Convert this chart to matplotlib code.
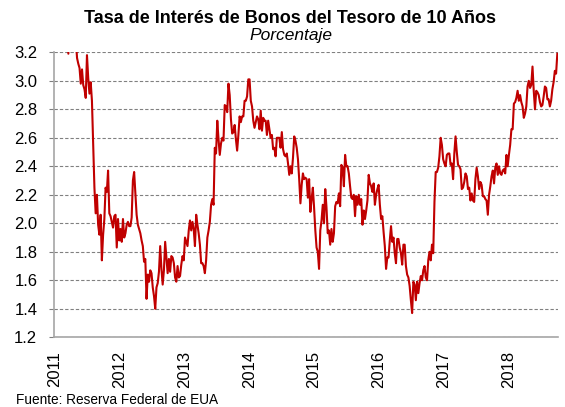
import matplotlib
matplotlib.use("Agg")
import matplotlib.pyplot as plt
import matplotlib.dates as mdates
import pandas as pd
import numpy as np

plt.rcParams['font.family'] = ['Liberation Sans', 'DejaVu Sans']

# Weekly (Friday) 10-year Treasury yield, %
y2011 = [3.34, 3.32, 3.40, 3.33,
         3.64, 3.63, 3.58, 3.42,
         3.49, 3.40, 3.19, 3.44,
         3.45, 3.57, 3.41, 3.36, 3.29,
         3.16, 3.12, 3.09, 2.98,
         3.08, 2.97, 2.94, 2.88,
         3.18, 3.02, 2.91, 2.99, 2.86,
         2.56, 2.25, 2.07, 2.20,
         1.99, 1.92, 2.06, 1.74, 1.92,
         2.03, 2.25, 2.22, 2.37,
         2.07, 2.05, 2.01, 1.97,
         2.05, 2.06, 1.83, 2.03, 1.88]
y2012 = [1.96, 1.87, 2.03, 1.90,
         1.93, 1.99, 2.01, 1.98,
         1.98, 2.04, 2.30, 2.36, 2.21,
         2.06, 1.99, 1.96, 1.93,
         1.88, 1.84, 1.73, 1.75,
         1.47, 1.64, 1.59, 1.67, 1.65,
         1.55, 1.49, 1.40, 1.55,
         1.58, 1.66, 1.84, 1.68, 1.57,
         1.67, 1.87, 1.76, 1.65,
         1.75, 1.66, 1.77, 1.76,
         1.72, 1.62, 1.59, 1.70, 1.62,
         1.63, 1.71, 1.77, 1.74]
y2013 = [1.90, 1.87, 1.84, 1.95,
         2.02, 1.95, 2.01, 1.96,
         1.84, 2.06, 1.99, 1.93, 1.85,
         1.72, 1.72, 1.70, 1.65,
         1.74, 1.90, 1.95, 2.01, 2.13,
         2.17, 2.13, 2.53, 2.49,
         2.72, 2.59, 2.48, 2.56,
         2.60, 2.58, 2.83, 2.82, 2.78,
         2.98, 2.90, 2.73, 2.63,
         2.64, 2.69, 2.59, 2.51,
         2.62, 2.75, 2.71, 2.75, 2.75,
         2.86, 2.86, 2.89, 3.01]
y2014 = [3.01, 2.86, 2.82, 2.72, 2.67,
         2.71, 2.75, 2.73, 2.66,
         2.79, 2.65, 2.74, 2.72,
         2.72, 2.62, 2.72, 2.66,
         2.60, 2.62, 2.52, 2.53, 2.47,
         2.60, 2.60, 2.60, 2.53,
         2.64, 2.52, 2.48, 2.47,
         2.49, 2.42, 2.34, 2.40, 2.35,
         2.46, 2.61, 2.58, 2.53,
         2.45, 2.31, 2.14, 2.27, 2.35,
         2.31, 2.32, 2.31, 2.18,
         2.31, 2.08, 2.17, 2.25]
y2015 = [2.11, 1.95, 1.83, 1.80, 1.68,
         1.95, 2.02, 2.13, 2.00,
         2.24, 2.11, 1.93, 1.95,
         1.85, 1.96, 1.87, 1.93,
         2.12, 2.15, 2.14, 2.21, 2.12,
         2.41, 2.39, 2.26, 2.48,
         2.40, 2.40, 2.35, 2.26, 2.18,
         2.17, 2.20, 2.05, 2.19,
         2.13, 2.20, 2.13, 2.17,
         1.99, 2.09, 2.03, 2.09, 2.16,
         2.34, 2.28, 2.26, 2.22,
         2.28, 2.13, 2.20, 2.24]
y2016 = [2.27, 2.13, 2.03, 2.05, 1.94,
         1.84, 1.68, 1.76, 1.76,
         1.88, 1.98, 1.87, 1.90,
         1.79, 1.72, 1.89, 1.89, 1.83,
         1.79, 1.71, 1.85, 1.85,
         1.70, 1.64, 1.62, 1.56,
         1.46, 1.37, 1.59, 1.57, 1.46,
         1.59, 1.51, 1.58, 1.63,
         1.60, 1.67, 1.70, 1.62, 1.60,
         1.74, 1.80, 1.74, 1.85,
         1.79, 2.15, 2.36, 2.36,
         2.39, 2.47, 2.60, 2.55, 2.45]
y2017 = [2.42, 2.40, 2.48, 2.49,
         2.49, 2.41, 2.42, 2.31,
         2.49, 2.61, 2.50, 2.41, 2.40,
         2.38, 2.24, 2.25, 2.29,
         2.35, 2.33, 2.24, 2.25,
         2.16, 2.21, 2.16, 2.15, 2.31,
         2.39, 2.33, 2.24, 2.29,
         2.27, 2.19, 2.19, 2.17,
         2.16, 2.06, 2.20, 2.26, 2.33,
         2.37, 2.28, 2.39, 2.42,
         2.34, 2.40, 2.35, 2.34,
         2.37, 2.38, 2.35, 2.48, 2.40]
y2018 = [2.48, 2.55, 2.66, 2.66,
         2.84, 2.85, 2.88, 2.93,
         2.86, 2.90, 2.85, 2.82, 2.74,
         2.77, 2.82, 2.96, 3.00,
         2.95, 2.97, 3.10, 2.93,
         2.80, 2.93, 2.92, 2.90, 2.85,
         2.82, 2.83, 2.89, 2.96,
         2.95, 2.87, 2.87, 2.82, 2.86,
         2.94, 2.99, 3.07, 3.05,
         3.19]

years = [2011, 2012, 2013, 2014, 2015, 2016, 2017, 2018]
series = [y2011, y2012, y2013, y2014, y2015, y2016, y2017, y2018]
year_labels = [str(y) for y in years]
y_ticks = [1.2, 1.4, 1.6, 1.8, 2.0, 2.2, 2.4, 2.6, 2.8, 3.0, 3.2]

dates = []
values = []
for yr, vals in zip(years, series):
    d = pd.date_range(f"{yr}-01-01", periods=len(vals), freq="W-FRI")
    dates.extend(d)
    values.extend(vals)
dates = pd.DatetimeIndex(dates)
values = np.array(values)

W, H = 565, 407
fig = plt.figure(figsize=(W / 100, H / 100), dpi=100)
ax = fig.add_axes([54 / W, 1 - 337.3 / H, (557.5 - 54) / W, (337.3 - 52.3) / H])

ax.plot(dates, values, color="#C00000", lw=1.5, zorder=3)

ax.set_ylim(1.2, 3.2)
ax.set_yticks(y_ticks)
ax.set_yticklabels([f"{t:.1f}" for t in y_ticks])
ax.set_xlim(pd.Timestamp("2010-12-27"), pd.Timestamp("2018-10-06"))
ax.set_xticks([pd.Timestamp(f"{y}-01-01") for y in years])
ax.set_xticklabels(year_labels, rotation=90)

ax.yaxis.grid(True, color="#808080", lw=0.8, linestyle=(0, (3.0, 1.8)))
ax.xaxis.grid(False)
ax.set_axisbelow(True)

for s in ["top", "right"]:
    ax.spines[s].set_visible(False)
for s in ["left", "bottom"]:
    ax.spines[s].set_color("#A6A6A6")
    ax.spines[s].set_linewidth(1.2)

ax.tick_params(axis="y", length=3.6, width=0.8, color="#808080", pad=8.4,
               labelsize=12, labelcolor="#000000")
ax.tick_params(axis="x", length=0, pad=10, labelsize=12, labelcolor="#000000")

fig.text(0.513, 1 - 23 / H, "Tasa de Interés de Bonos del Tesoro de 10 Años",
         ha="center", va="baseline", fontsize=13, fontweight="bold")
fig.text(0.515, 1 - 40 / H, "Porcentaje", ha="center", va="baseline",
         fontsize=12.5, style="italic")
fig.text(16 / W, 1 - 404.5 / H, "Fuente: Reserva Federal de EUA",
         ha="left", va="baseline", fontsize=9.8)

fig.savefig("out.png", dpi=100)
